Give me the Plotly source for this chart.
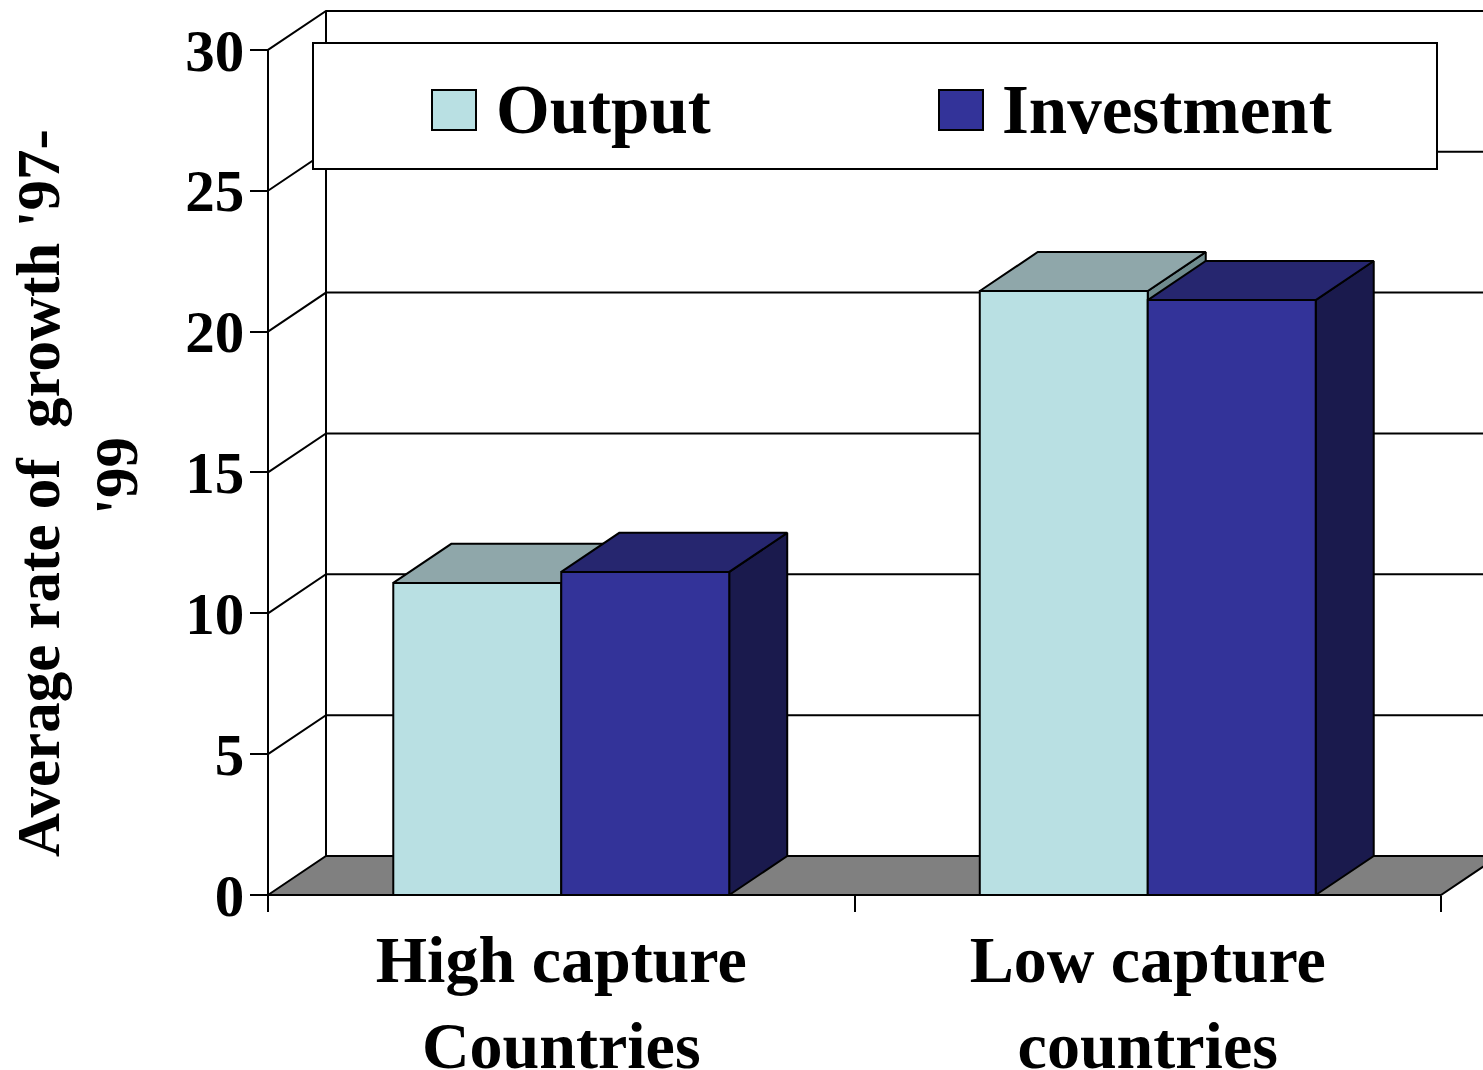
import plotly.graph_objects as go

categories = ["High capture<br>Countries", "Low capture<br>countries"]
output_values = [11.08, 21.44]
investment_values = [11.47, 21.12]
y_ticks = [0, 5, 10, 15, 20, 25, 30]
series_names = ["Output", "Investment"]
y_title_lines = ["Average rate of  growth '97-", "'99"]

W, H = 1483, 1070
ORIGIN_PX = (268, 895)
PX_PER_CAT, PX_PER_UNIT = 586.5, 28.17
DEPTH_X, DEPTH_Y = 0.0989, 1.385
BAR_W = 0.2864
FONT = "Liberation Serif"
BLACK = "#000000"
LINE_W = 2
STYLES = {
    "Output": ("#B9E0E3", "#8FA7AA", "#6F8B8E"),
    "Investment": ("#333399", "#26266F", "#1A1A4D"),
}

fig = go.Figure()


def poly(xs, ys, fill=None, name=None, width=LINE_W):
    fig.add_trace(go.Scatter(
        x=xs, y=ys, mode="lines", name=name, showlegend=False,
        line=dict(color=BLACK, width=width), hoverinfo="skip",
        fill="toself" if fill else None, fillcolor=fill,
    ))


# floor and back wall
x_end = len(categories)
y_max = y_ticks[-1]
poly([0, DEPTH_X, x_end + DEPTH_X, x_end, 0], [0, DEPTH_Y, DEPTH_Y, 0, 0], fill="#808080")
for v in y_ticks[1:]:
    poly([0, DEPTH_X, x_end + DEPTH_X], [v, v + DEPTH_Y, v + DEPTH_Y])
poly([DEPTH_X, DEPTH_X], [DEPTH_Y, y_max + DEPTH_Y])
# front axis lines
poly([0, 0], [0, y_max])
poly([0, x_end], [0, 0])

# bars: each category, left to right
for i in range(len(categories)):
    for s, (name, values) in enumerate(zip(series_names, [output_values, investment_values])):
        v = values[i]
        x0 = i + 0.5 + (s - 1) * BAR_W
        x1 = x0 + BAR_W
        front, top, side = STYLES[name]
        poly([x1, x1 + DEPTH_X, x1 + DEPTH_X, x1, x1], [0, DEPTH_Y, v + DEPTH_Y, v, 0], fill=side)
        poly([x0, x0 + DEPTH_X, x1 + DEPTH_X, x1, x0], [v, v + DEPTH_Y, v + DEPTH_Y, v, v], fill=top)
        poly([x0, x1, x1, x0, x0], [0, 0, v, v, 0], fill=front, name=name)


def px(x):
    return x / W


def py(y):
    return 1 - y / H


shapes = [dict(type="rect", xref="paper", yref="paper", x0=px(313), x1=px(1437), y0=py(169), y1=py(43),
               fillcolor="white", line=dict(color=BLACK, width=LINE_W))]
annotations = []
for name, sx, tx in zip(series_names, [432, 939], [494, 1000]):
    shapes.append(dict(type="rect", xref="paper", yref="paper", x0=px(sx), x1=px(sx + 44), y0=py(130), y1=py(90),
                       fillcolor=STYLES[name][0], line=dict(color=BLACK, width=LINE_W)))
    annotations.append(dict(text=name, xref="paper", yref="paper", x=px(tx), y=py(110), xanchor="left",
                            yanchor="middle", showarrow=False,
                            font=dict(family=FONT, size=69, color=BLACK, weight=700)))
for line, tx, ty in zip(y_title_lines, [38, 116], [493, 476]):
    annotations.append(dict(text=line, xref="paper", yref="paper", x=px(tx), y=py(ty), xanchor="center",
                            yanchor="middle", textangle=-90, showarrow=False,
                            font=dict(family=FONT, size=61, color=BLACK, weight=700)))

fig.update_layout(
    width=W, height=H, margin=dict(l=0, r=0, t=0, b=0, pad=0), showlegend=False,
    paper_bgcolor="white", plot_bgcolor="white", shapes=shapes, annotations=annotations,
    xaxis=dict(domain=[0, 1], automargin=False,
               range=[-ORIGIN_PX[0] / PX_PER_CAT, (W - ORIGIN_PX[0]) / PX_PER_CAT],
               anchor="free", position=py(ORIGIN_PX[1]),
               tickmode="array", tickvals=[0.5, 1.5], ticktext=categories, ticks="", tickangle=0,
               tickfont=dict(family=FONT, size=66, color=BLACK, weight=700), ticklabelstandoff=20,
               showgrid=False, zeroline=False, showline=False,
               minor=dict(tickmode="array", tickvals=[0, 1, 2], ticks="outside", ticklen=16, tickwidth=LINE_W,
                          tickcolor=BLACK, showgrid=False)),
    yaxis=dict(domain=[0, 1], automargin=False,
               range=[-(H - ORIGIN_PX[1]) / PX_PER_UNIT, ORIGIN_PX[1] / PX_PER_UNIT],
               anchor="free", position=px(ORIGIN_PX[0]),
               tickmode="array", tickvals=y_ticks, ticks="outside", ticklen=18, tickwidth=LINE_W, tickcolor=BLACK,
               tickfont=dict(family=FONT, size=59, color=BLACK, weight=700), ticklabelstandoff=-6,
               showgrid=False, zeroline=False, showline=False),
)
fig.write_html("out.html", post_script="document.body.style.margin='0';", config=dict(displayModeBar=False))
